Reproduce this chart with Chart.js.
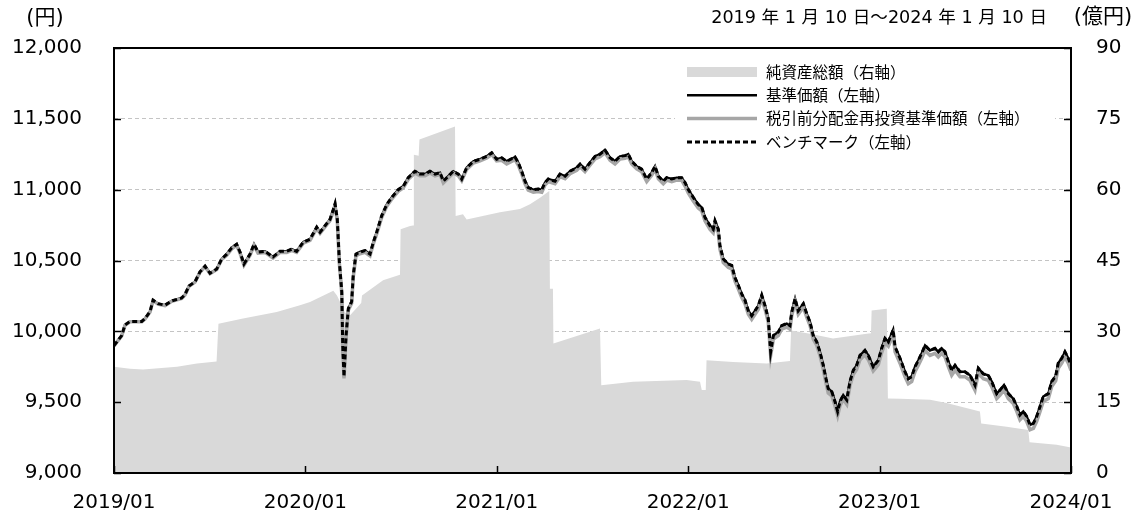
<!DOCTYPE html>
<html lang="ja">
<head>
<meta charset="utf-8">
<script src="https://cdn.jsdelivr.net/npm/chart.js@4.4.1/dist/chart.umd.min.js"></script>
<style>
  html, body { margin: 0; padding: 0; background: #fff; }
</style>
</head>
<body>
<canvas id="chart" width="1141" height="517"></canvas>
<script>
// x = months since 2019/01
const xTickLabels = ['2019/01', '2020/01', '2021/01', '2022/01', '2023/01', '2024/01'];
const periodText = '2019 年 1 月 10 日～2024 年 1 月 10 日';

const months = [
  0, 0.48, 0.69, 1.0, 1.74, 1.94, 2.26, 2.45, 2.76, 3.2,
  3.62, 4.24, 4.45, 4.7, 5.08, 5.39, 5.71, 6.02, 6.44, 6.75,
  7.07, 7.38, 7.69, 7.9, 8.15, 8.53, 8.78, 9.03, 9.47, 9.97,
  10.41, 10.83, 11.14, 11.45, 11.87, 12.29, 12.71, 12.92, 13.23, 13.54,
  13.75, 13.86, 14.0, 14.13, 14.28, 14.34, 14.42, 14.55, 14.69, 14.9,
  15.0, 15.17, 15.42, 15.74, 16.05, 16.26, 16.47, 16.78, 17.1, 17.41,
  17.82, 18.14, 18.45, 18.87, 19.18, 19.5, 19.81, 20.13, 20.44, 20.65,
  20.96, 21.27, 21.59, 21.8, 22.11, 22.53, 22.95, 23.37, 23.68, 23.99,
  24.31, 24.62, 25.14, 25.35, 25.56, 25.77, 25.97, 26.29, 26.6, 26.82,
  27.02, 27.23, 27.65, 27.96, 28.28, 28.59, 29.01, 29.22, 29.53, 29.84,
  30.16, 30.47, 30.78, 31.1, 31.41, 31.72, 32.04, 32.24, 32.46, 32.77,
  33.08, 33.4, 33.71, 33.92, 34.13, 34.44, 34.65, 34.97, 35.28, 35.59,
  35.8, 36.01, 36.32, 36.63, 36.85, 37.05, 37.37, 37.57, 37.68, 37.89,
  37.99, 38.2, 38.52, 38.73, 38.93, 39.14, 39.35, 39.56, 39.77, 39.98,
  40.19, 40.39, 40.61, 40.82, 41.02, 41.17, 41.34, 41.65, 41.86, 42.18,
  42.38, 42.49, 42.7, 42.9, 43.22, 43.43, 43.64, 43.84, 44.06, 44.26,
  44.47, 44.64, 44.78, 45.0, 45.2, 45.37, 45.52, 45.72, 45.94, 46.14,
  46.35, 46.56, 46.77, 47.08, 47.29, 47.6, 47.92, 48.13, 48.34, 48.55,
  48.85, 48.97, 49.28, 49.59, 49.8, 50.01, 50.22, 50.43, 50.64, 50.85,
  51.16, 51.47, 51.68, 51.89, 52.1, 52.31, 52.52, 52.73, 53.04, 53.35,
  53.67, 53.98, 54.19, 54.5, 54.81, 55.03, 55.34, 55.55, 55.8, 56.07,
  56.38, 56.6, 56.8, 57.01, 57.22, 57.43, 57.64, 57.85, 58.06, 58.26,
  58.58, 58.79, 59.04, 59.2, 59.42, 59.62, 59.83, 60.0
];

// 基準価額（円）
const navValues = [
  9900, 9970, 10045, 10070, 10070, 10090, 10140, 10220, 10195, 10185,
  10215, 10235, 10260, 10320, 10350, 10420, 10460, 10410, 10440, 10510,
  10545, 10590, 10615, 10560, 10475, 10545, 10615, 10560, 10565, 10525,
  10565, 10565, 10580, 10565, 10630, 10650, 10735, 10700, 10745, 10790,
  10860, 10900, 10790, 10490, 10280, 9900, 9680, 9970, 10160, 10210,
  10395, 10545, 10560, 10570, 10545, 10630, 10700, 10815, 10895, 10945,
  11000, 11025, 11085, 11130, 11110, 11110, 11130, 11110, 11120, 11060,
  11095, 11130, 11110, 11075, 11155, 11200, 11215, 11235, 11260, 11215,
  11225, 11200, 11230, 11190, 11130, 11060, 11015, 11000, 11005, 11000,
  11050, 11075, 11060, 11110, 11095, 11130, 11155, 11180, 11145, 11190,
  11235, 11250, 11280, 11225, 11200, 11235, 11240, 11250, 11200, 11165,
  11145, 11075, 11120, 11165, 11095, 11060, 11085, 11075, 11085, 11085,
  11050, 11000, 10945, 10895, 10875, 10805, 10745, 10720, 10780, 10720,
  10605, 10510, 10475, 10465, 10380, 10325, 10265, 10220, 10145, 10110,
  10145, 10180, 10255, 10180, 10090, 9855, 9970, 9995, 10040, 10055,
  10040, 10135, 10230, 10145, 10195, 10125, 10065, 9970, 9925, 9855,
  9760, 9665, 9595, 9575, 9505, 9435, 9505, 9550, 9515, 9645,
  9725, 9760, 9830, 9865, 9830, 9750, 9795, 9880, 9950, 9925,
  10010, 9890, 9810, 9715, 9665, 9680, 9750, 9795, 9845, 9900,
  9865, 9880, 9855, 9880, 9855, 9785, 9725, 9760, 9715, 9715,
  9690, 9620, 9740, 9700, 9690, 9645, 9560, 9585, 9620, 9560,
  9525, 9470, 9410, 9435, 9400, 9340, 9350, 9400, 9470, 9540,
  9560, 9645, 9685, 9775, 9810, 9855, 9810, 9760
];

// 税引前分配金再投資基準価額（円）
const reinvestValues = [
  9897, 9967, 10042, 10067, 10067, 10087, 10137, 10217, 10192, 10182,
  10212, 10232, 10257, 10317, 10347, 10417, 10457, 10407, 10437, 10507,
  10537, 10582, 10607, 10552, 10467, 10537, 10607, 10552, 10557, 10517,
  10557, 10557, 10572, 10557, 10622, 10642, 10727, 10692, 10737, 10782,
  10848, 10888, 10778, 10478, 10268, 9888, 9668, 9958, 10148, 10198,
  10383, 10533, 10548, 10558, 10533, 10618, 10688, 10803, 10883, 10933,
  10988, 11013, 11073, 11118, 11098, 11098, 11118, 11098, 11108, 11048,
  11083, 11118, 11098, 11063, 11143, 11188, 11203, 11223, 11248, 11203,
  11207, 11182, 11212, 11172, 11112, 11042, 10997, 10982, 10987, 10982,
  11032, 11057, 11042, 11092, 11077, 11112, 11137, 11162, 11127, 11172,
  11217, 11232, 11262, 11207, 11182, 11217, 11222, 11232, 11182, 11147,
  11127, 11057, 11102, 11147, 11077, 11042, 11067, 11057, 11067, 11067,
  11025, 10975, 10920, 10870, 10850, 10780, 10720, 10695, 10755, 10695,
  10580, 10485, 10450, 10440, 10355, 10300, 10240, 10195, 10120, 10085,
  10120, 10155, 10230, 10155, 10065, 9830, 9945, 9970, 10015, 10030,
  10015, 10110, 10205, 10120, 10170, 10100, 10040, 9945, 9900, 9830,
  9730, 9635, 9565, 9545, 9475, 9405, 9475, 9520, 9485, 9615,
  9695, 9730, 9800, 9835, 9800, 9720, 9765, 9850, 9920, 9895,
  9975, 9855, 9775, 9680, 9630, 9645, 9715, 9760, 9810, 9865,
  9830, 9845, 9820, 9845, 9820, 9750, 9690, 9725, 9680, 9680,
  9655, 9585, 9705, 9665, 9655, 9610, 9525, 9550, 9585, 9525,
  9490, 9435, 9375, 9400, 9365, 9305, 9315, 9365, 9435, 9505,
  9525, 9610, 9650, 9740, 9775, 9820, 9775, 9725
];

// ベンチマーク（円）
const benchValues = [
  9900, 9970, 10045, 10070, 10070, 10090, 10140, 10220, 10195, 10185,
  10215, 10235, 10260, 10320, 10350, 10420, 10460, 10410, 10440, 10510,
  10545, 10590, 10615, 10560, 10475, 10545, 10615, 10560, 10565, 10525,
  10565, 10565, 10580, 10565, 10630, 10650, 10735, 10700, 10745, 10790,
  10860, 10900, 10790, 10490, 10280, 9900, 9680, 9970, 10160, 10210,
  10395, 10545, 10560, 10570, 10545, 10630, 10700, 10815, 10895, 10945,
  11000, 11025, 11085, 11130, 11110, 11110, 11130, 11110, 11120, 11060,
  11095, 11130, 11110, 11075, 11155, 11200, 11215, 11235, 11260, 11215,
  11225, 11200, 11230, 11190, 11130, 11060, 11015, 11000, 11005, 11000,
  11050, 11075, 11060, 11110, 11095, 11130, 11155, 11180, 11145, 11190,
  11235, 11250, 11280, 11225, 11200, 11235, 11240, 11250, 11200, 11165,
  11145, 11075, 11120, 11165, 11095, 11060, 11085, 11075, 11085, 11085,
  11050, 11000, 10945, 10895, 10875, 10805, 10745, 10720, 10780, 10720,
  10605, 10510, 10475, 10465, 10380, 10325, 10265, 10220, 10145, 10110,
  10145, 10180, 10255, 10180, 10090, 9855, 9970, 9995, 10040, 10055,
  10040, 10135, 10230, 10145, 10195, 10125, 10065, 9970, 9925, 9855,
  9760, 9665, 9595, 9575, 9505, 9435, 9505, 9550, 9515, 9645,
  9725, 9760, 9830, 9865, 9830, 9750, 9795, 9880, 9950, 9925,
  10010, 9890, 9810, 9715, 9665, 9680, 9750, 9795, 9845, 9900,
  9865, 9880, 9855, 9880, 9855, 9785, 9725, 9760, 9715, 9715,
  9690, 9620, 9740, 9700, 9690, 9645, 9560, 9585, 9620, 9560,
  9525, 9470, 9410, 9435, 9400, 9340, 9350, 9400, 9470, 9540,
  9560, 9645, 9685, 9775, 9810, 9855, 9810, 9760
];

// 純資産総額（億円）
const assetMonths = [
  0, 1.0, 1.82, 3.95, 5.2, 6.43, 6.55, 8.09, 10.2, 11.66,
  12.29, 13.75, 13.98, 14.48, 14.8, 15.5, 15.55, 16.87, 17.93, 17.97,
  18.56, 18.75, 18.8, 19.1, 19.15, 21.38, 21.42, 21.88, 22.11, 24.2,
  25.45, 26.08, 26.71, 27.29, 27.33, 27.52, 27.55, 30.47, 30.55, 32.54,
  35.9, 36.74, 36.85, 37.1, 37.15, 38.81, 40.92, 42.38, 42.45, 43.64,
  45.08, 47.19, 47.46, 47.5, 48.45, 48.52, 49.28, 51.16, 52.2, 54.29,
  54.37, 55.97, 57.32, 57.4, 59.1, 60.0
];
const assetValues = [
  22.5, 22.1, 21.9, 22.5, 23.2, 23.6, 31.6, 32.7, 34.1, 35.5,
  36.2, 38.6, 37.6, 34.0, 33.4, 36.0, 37.6, 40.8, 42.0, 51.6,
  52.3, 52.4, 67.4, 67.2, 70.6, 73.4, 54.4, 54.8, 53.7, 55.2,
  55.9, 56.9, 58.3, 59.7, 39.0, 39.0, 27.4, 30.6, 18.6, 19.3,
  19.7, 19.3, 17.6, 17.6, 23.9, 23.5, 23.2, 23.7, 30.2, 29.5,
  28.5, 29.5, 29.6, 34.4, 34.8, 15.8, 15.7, 15.5, 14.8, 13.0,
  10.5, 9.8, 9.1, 6.5, 6.0, 5.4
];

const toPoints = (xs, ys) => xs.map((x, i) => ({ x: x, y: ys[i] }));

const FONT = '"DejaVu Sans", "Noto Sans CJK JP", sans-serif';
Chart.defaults.font.family = FONT;
Chart.defaults.color = '#000';

// 凡例（チャート内の白い枠）
const boxLegend = {
    id: 'boxLegend',
    beforeDatasetsDraw(chart) {
        const { ctx, chartArea } = chart;
        const left = chartArea.right - 396;
        const top = chartArea.top + 10;
        ctx.save();
        ctx.fillStyle = '#fff';
        ctx.fillRect(left, top, 380, 96);
        chart.data.datasets.forEach((ds, i) => {
            const y = top + 14 + i * 23.3;
            const x0 = left + 12;
            const x1 = left + 82;
            if (ds.fill) {
                ctx.fillStyle = ds.backgroundColor;
                ctx.fillRect(x0, y - 5, x1 - x0, 10);
            } else {
                ctx.strokeStyle = ds.borderColor;
                ctx.lineWidth = ds.borderWidth;
                ctx.setLineDash(ds.borderDash || []);
                ctx.beginPath();
                ctx.moveTo(x0, y);
                ctx.lineTo(x1, y);
                ctx.stroke();
                ctx.setLineDash([]);
            }
            ctx.fillStyle = '#000';
            ctx.font = '15.5px "Noto Sans CJK JP", "DejaVu Sans"';
            ctx.textBaseline = 'middle';
            ctx.textAlign = 'left';
            ctx.fillText(ds.label, x1 + 9, y);
        });
        ctx.restore();
    }
};

// 枠線・内向き目盛り・単位
const frame = {
    id: 'frame',
    afterDraw(chart) {
        const { ctx, chartArea: a, scales } = chart;
        ctx.save();
        ctx.strokeStyle = '#000';
        ctx.lineWidth = 1.5;
        ctx.beginPath();
        scales.y.ticks.forEach(t => {
            const py = Math.round(scales.y.getPixelForValue(t.value)) + 0.5;
            ctx.moveTo(a.left, py);
            ctx.lineTo(a.left + 7, py);
        });
        scales.y2.ticks.forEach(t => {
            const py = Math.round(scales.y2.getPixelForValue(t.value)) + 0.5;
            ctx.moveTo(a.right, py);
            ctx.lineTo(a.right - 7, py);
        });
        scales.x.ticks.forEach(t => {
            const px = Math.round(scales.x.getPixelForValue(t.value)) + 0.5;
            ctx.moveTo(px, a.bottom);
            ctx.lineTo(px, a.bottom - 7);
        });
        ctx.stroke();
        ctx.lineWidth = 2;
        ctx.strokeRect(a.left, a.top, a.right - a.left, a.bottom - a.top);

        ctx.fillStyle = '#000';
        ctx.textBaseline = 'middle';
        ctx.font = '21px ' + FONT;
        ctx.textAlign = 'center';
        ctx.fillText('(円)', 45, 19);
        ctx.fillText('(億円)', a.right + 32, 18);
        ctx.font = '17.6px ' + FONT;
        ctx.textAlign = 'right';
        ctx.fillText(periodText, a.right - 24, 18);
        ctx.restore();
    }
};

new Chart(document.getElementById('chart'), {
    type: 'line',
    data: {
        datasets: [
            {
                label: '純資産総額（右軸）',
                data: toPoints(assetMonths, assetValues),
                yAxisID: 'y2',
                fill: 'origin',
                backgroundColor: '#d9d9d9',
                borderWidth: 0,
                pointRadius: 0,
                order: 4,
            },
            {
                label: '基準価額（左軸）',
                data: toPoints(months, navValues),
                yAxisID: 'y',
                borderColor: '#000',
                borderWidth: 2.5,
                pointRadius: 0,
                fill: false,
                order: 3,
            },
            {
                label: '税引前分配金再投資基準価額（左軸）',
                data: toPoints(months, reinvestValues),
                yAxisID: 'y',
                borderColor: '#a6a6a6',
                borderWidth: 3.5,
                pointRadius: 0,
                fill: false,
                order: 2,
            },
            {
                label: 'ベンチマーク（左軸）',
                data: toPoints(months, benchValues),
                yAxisID: 'y',
                borderColor: '#000',
                borderWidth: 3,
                borderDash: [5, 3],
                pointRadius: 0,
                fill: false,
                order: 1,
            },
        ],
    },
    options: {
        responsive: false,
        animation: false,
        devicePixelRatio: 1,
        layout: { padding: { top: 48, left: 0, right: 0, bottom: 0 } },
        plugins: {
            legend: { display: false },
            tooltip: { enabled: false },
        },
        scales: {
            x: {
                type: 'linear',
                min: 0,
                max: 60,
                afterFit: (s) => { s.height = 42; },
                afterBuildTicks: (s) => { s.ticks = xTickLabels.map((_, i) => ({ value: i * 12 })); },
                ticks: {
                    callback: (v) => xTickLabels[v / 12],
                    font: { size: 20 },
                    padding: 10,
                    maxRotation: 0,
                },
                grid: { display: false },
                border: { display: false },
            },
            y: {
                position: 'left',
                min: 9000,
                max: 12000,
                afterFit: (s) => { s.width = 114; },
                ticks: {
                    stepSize: 500,
                    callback: (v) => v.toLocaleString('en-US'),
                    font: { size: 20 },
                    padding: 32,
                },
                grid: { color: '#c4c4c4', lineWidth: 1, drawTicks: false },
                border: { display: false, dash: [4, 3] },
            },
            y2: {
                position: 'right',
                min: 0,
                max: 90,
                afterFit: (s) => { s.width = 70; },
                ticks: {
                    stepSize: 15,
                    font: { size: 20 },
                    padding: 25,
                },
                grid: { drawOnChartArea: false, drawTicks: false },
                border: { display: false },
            },
        },
    },
    plugins: [boxLegend, frame],
});
</script>
</body>
</html>
